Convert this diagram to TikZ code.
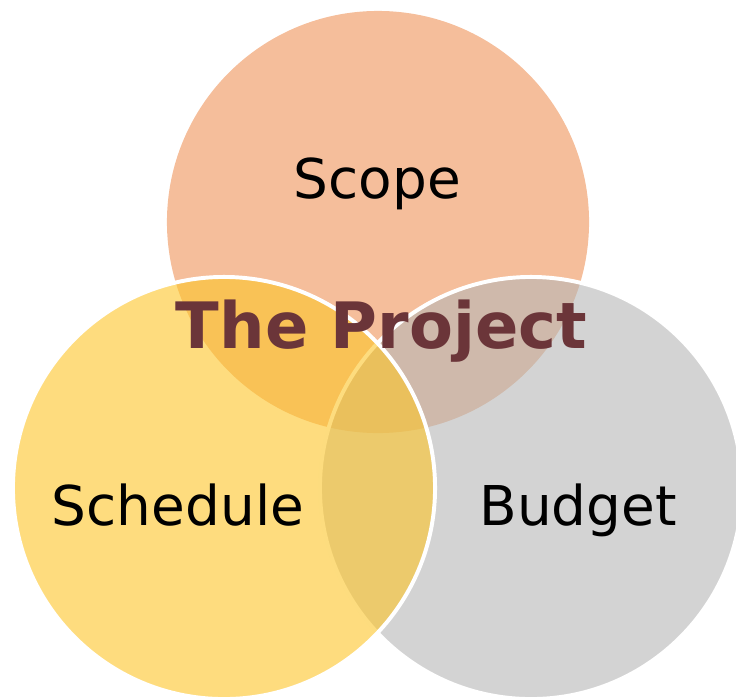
\documentclass[tikz,border=0pt]{standalone}
\usepackage{fontspec}
\setmainfont{DejaVu Sans}
\usepackage{tikz}
\usetikzlibrary{positioning}
\definecolor{scopeorange}{RGB}{245,190,155}
\definecolor{schedyellow}{RGB}{253,197,40}
\definecolor{budgetgray}{RGB}{182,182,182}
\definecolor{projbrown}{RGB}{107,53,57}
\tikzstyle{ring} = [circle, minimum size=10.55cm, inner sep=0pt, draw=white, line width=2.8pt]
\tikzstyle{areaname} = [anchor=base, inner sep=0pt, font=\fontsize{39}{47}\selectfont]
\tikzstyle{centrename} = [anchor=base, inner sep=0pt, text=projbrown, font=\bfseries\fontsize{45.5}{54}\selectfont]

\begin{document}
\begin{tikzpicture}[x=0.025cm, y=-0.025cm]
      \useasboundingbox (0,0) rectangle (736,699);
      % the three circles, scope at the back
      \node (scope) at (378,222) [ring, draw=none, fill=scopeorange] {};
      \node (budget) at (531,488) [ring, fill=budgetgray, fill opacity=0.6] {};
      \node (schedule) at (224,488) [ring, fill=schedyellow, fill opacity=0.6] {};
      % names
      \node (tscope) at (377.5,198) [areaname] {Scope};
      \node (tschedule) at (178,525) [areaname] {Schedule};
      \node (tbudget) at (578,525) [areaname] {Budget};
      \node (tproject) at (381.5,348) [centrename] {The Project};
\end{tikzpicture}
\end{document}
